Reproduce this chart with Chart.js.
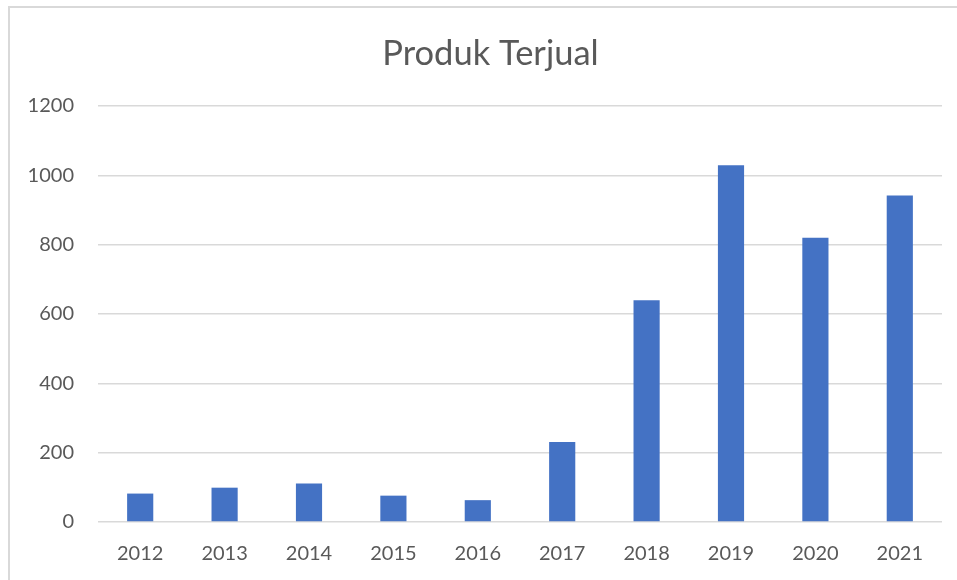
<!DOCTYPE html>
<html>
<head>
<meta charset="utf-8">
<script src="https://cdn.jsdelivr.net/npm/chart.js@4.4.0/dist/chart.umd.min.js"></script>
<style>
    html, body { margin: 0; padding: 0; background: #fff; overflow: hidden; }
    #frame {
        position: absolute; left: 8px; top: 6px;
        width: 2000px; height: 2000px;
        border: 2px solid #d9d9d9;
    }
    #wrap { position: absolute; left: 0; top: 0; width: 957px; height: 580px; }
</style>
</head>
<body>
<div id="frame"></div>
<div id="wrap"><canvas id="ventasChart" width="957" height="580"></canvas></div>
<script>
const tahun = ['2012', '2013', '2014', '2015', '2016', '2017', '2018', '2019', '2020', '2021'];
const terjual = [82, 99, 111, 76, 63, 231, 640, 1029, 820, 942];
const judul = 'Produk Terjual';
const sumbuY = { min: 0, max: 1200, step: 200 };

const abu = '#595959';
const garis = '#d9d9d9';

// judul digambar sendiri supaya posisinya pas dengan bingkai
const judulPlugin = {
    id: 'judulPlugin',
    afterDraw: function(chart) {
        const c = chart.ctx;
        c.save();
        c.fillStyle = abu;
        c.font = '34.5px Lato';
        c.textAlign = 'center';
        c.textBaseline = 'alphabetic';
        c.fillText(judul, 490.5, 65);
        c.restore();
    }
};

document.addEventListener('DOMContentLoaded', function() {
    var ctx = document.getElementById('ventasChart').getContext('2d');
    var chartProduk = new Chart(ctx, {
        type: 'bar',
        data: {
            labels: tahun,
            datasets: [{
                label: judul,
                data: terjual,
                backgroundColor: '#4472C4',
                barPercentage: 0.31,
                categoryPercentage: 1
            }]
        },
        options: {
            responsive: false,
            animation: false,
            layout: { padding: { left: 20, right: 15, top: 106, bottom: 0 } },
            plugins: {
                legend: { display: false },
                tooltip: { enabled: false },
                title: { display: false }
            },
            scales: {
                x: {
                    grid: { display: false },
                    border: { display: false },
                    ticks: {
                        color: abu,
                        font: { family: 'Lato', size: 20 },
                        padding: 12,
                        maxRotation: 0
                    },
                    afterFit: function(scale) { scale.height = 58; }
                },
                y: {
                    min: sumbuY.min,
                    max: sumbuY.max,
                    border: { display: false },
                    grid: { color: garis, lineWidth: 1.5, drawTicks: false },
                    ticks: {
                        stepSize: sumbuY.step,
                        color: abu,
                        font: { family: 'Lato', size: 20 },
                        padding: 24,
                        callback: function(v) { return String(v); }
                    },
                    afterFit: function(scale) { scale.width = 78; }
                }
            }
        },
        plugins: [judulPlugin]
    });
});
</script>
</body>
</html>
